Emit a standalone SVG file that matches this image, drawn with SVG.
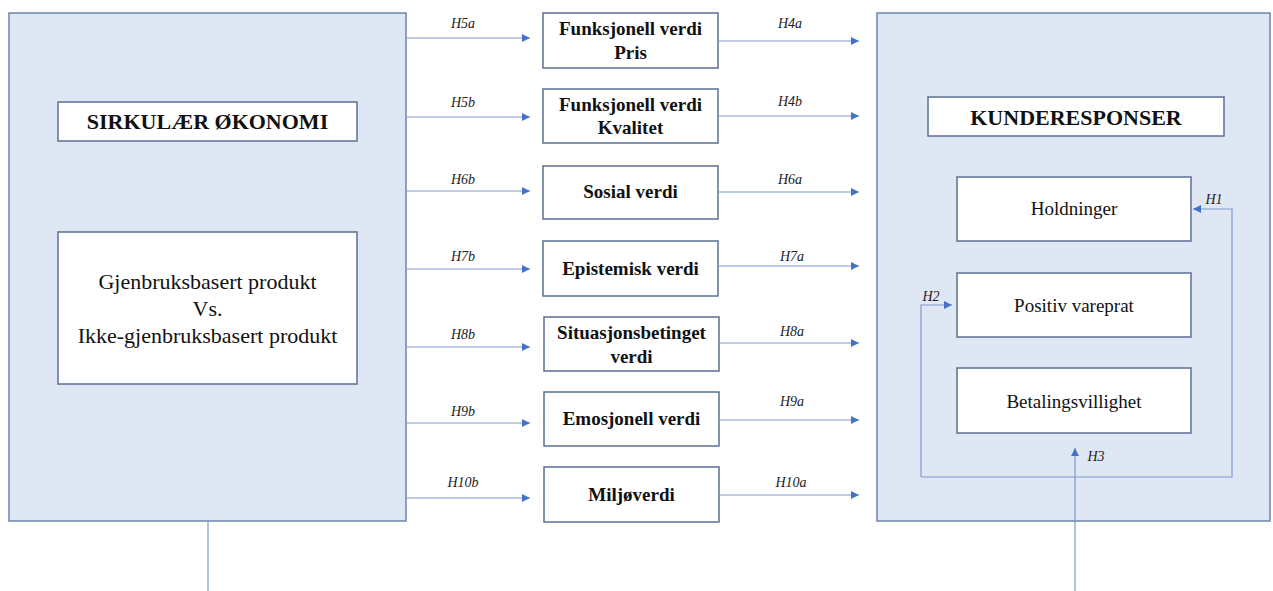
<svg xmlns="http://www.w3.org/2000/svg" width="1273" height="591" viewBox="0 0 1273 591">
<defs>
<style>
.big{fill:#E0E7F4;stroke:#6B84AA;stroke-width:1.5}
.box{fill:#FFFFFF;stroke:#5B6F94;stroke-width:1.5}
.ln{fill:none;stroke:#7E9BCB;stroke-width:1.2}
.t{font-family:"Liberation Serif","Times New Roman",serif;fill:#111}
.b{font-weight:bold}
.lab{font-family:"Liberation Serif","Times New Roman",serif;font-style:italic;font-size:14px;fill:#222;text-anchor:middle}
.c{text-anchor:middle}
</style>
<marker id="ah" viewBox="0 0 10 10" refX="10" refY="5" markerWidth="8" markerHeight="8" markerUnits="userSpaceOnUse" orient="auto">
<path d="M0,0 L10,5 L0,10 z" fill="#4472C4"/>
</marker>
</defs>
<rect width="1273" height="591" fill="#FFFFFF"/>

<g id="sirkulaer">
<rect class="big" x="9" y="13" width="397" height="508"/>
<rect class="box" x="58" y="102" width="299" height="39"/>
<text class="t b c" x="207.5" y="129" font-size="22">SIRKULÆR ØKONOMI</text>
<rect class="box" x="58" y="232" width="299" height="152"/>
<text class="t c" x="207.5" y="289" font-size="22">Gjenbruksbasert produkt</text>
<text class="t c" x="207.5" y="316" font-size="22">Vs.</text>
<text class="t c" x="207.5" y="343" font-size="22">Ikke-gjenbruksbasert produkt</text>
</g>

<g id="kunderesponser">
<rect class="big" x="877" y="13" width="393" height="508"/>
<rect class="box" x="928" y="97" width="296" height="39"/>
<text class="t b c" x="1076" y="125" font-size="22">KUNDERESPONSER</text>
</g>
<g id="holdninger">
<rect class="box" x="957" y="177" width="234" height="64"/>
<text class="t c" x="1074" y="215" font-size="19">Holdninger</text>
</g>
<g id="vareprat">
<rect class="box" x="957" y="273" width="234" height="64"/>
<text class="t c" x="1074" y="312" font-size="19">Positiv vareprat</text>
</g>
<g id="betaling">
<rect class="box" x="957" y="368" width="234" height="65"/>
<text class="t c" x="1074" y="408" font-size="19">Betalingsvillighet</text>
</g>

<g id="pris">
<rect class="box" x="543" y="13" width="175" height="55"/>
<text class="t b c" x="630.5" y="35" font-size="19">Funksjonell verdi</text>
<text class="t b c" x="630.5" y="59" font-size="19">Pris</text>
</g>
<g id="kvalitet">
<rect class="box" x="543" y="89" width="175" height="54"/>
<text class="t b c" x="630.5" y="111" font-size="19">Funksjonell verdi</text>
<text class="t b c" x="630.5" y="134" font-size="19">Kvalitet</text>
</g>
<g id="sosial">
<rect class="box" x="543" y="166" width="175" height="53"/>
<text class="t b c" x="630.5" y="198" font-size="19">Sosial verdi</text>
</g>
<g id="epistemisk">
<rect class="box" x="543" y="241" width="175" height="55"/>
<text class="t b c" x="630.5" y="275" font-size="19">Epistemisk verdi</text>
</g>
<g id="situasjon">
<rect class="box" x="544" y="317" width="175" height="54"/>
<text class="t b c" x="631.5" y="339" font-size="19">Situasjonsbetinget</text>
<text class="t b c" x="631.5" y="363" font-size="19">verdi</text>
</g>
<g id="emosjonell">
<rect class="box" x="544" y="392" width="175" height="54"/>
<text class="t b c" x="631.5" y="425" font-size="19">Emosjonell verdi</text>
</g>
<g id="miljo">
<rect class="box" x="544" y="467" width="175" height="55"/>
<text class="t b c" x="631.5" y="501" font-size="19">Miljøverdi</text>
</g>

<g id="connectors">
<line class="ln" x1="406" y1="38" x2="530" y2="38" marker-end="url(#ah)"/>
<line class="ln" x1="406" y1="117" x2="530" y2="117" marker-end="url(#ah)"/>
<line class="ln" x1="406" y1="191" x2="530" y2="191" marker-end="url(#ah)"/>
<line class="ln" x1="406" y1="269" x2="530" y2="269" marker-end="url(#ah)"/>
<line class="ln" x1="406" y1="347" x2="530" y2="347" marker-end="url(#ah)"/>
<line class="ln" x1="406" y1="423" x2="530" y2="423" marker-end="url(#ah)"/>
<line class="ln" x1="406" y1="498" x2="530" y2="498" marker-end="url(#ah)"/>

<line class="ln" x1="718" y1="41" x2="859" y2="41" marker-end="url(#ah)"/>
<line class="ln" x1="718" y1="116" x2="859" y2="116" marker-end="url(#ah)"/>
<line class="ln" x1="718" y1="192" x2="859" y2="192" marker-end="url(#ah)"/>
<line class="ln" x1="718" y1="266" x2="859" y2="266" marker-end="url(#ah)"/>
<line class="ln" x1="719" y1="343" x2="859" y2="343" marker-end="url(#ah)"/>
<line class="ln" x1="719" y1="420" x2="859" y2="420" marker-end="url(#ah)"/>
<line class="ln" x1="719" y1="495" x2="859" y2="495" marker-end="url(#ah)"/>

<path class="ln" d="M921,477 L1232,477 L1232,209 L1193,209" marker-end="url(#ah)"/>
<path class="ln" d="M921,477 L921,305 L952,305" marker-end="url(#ah)"/>
<line class="ln" x1="1075" y1="591" x2="1075" y2="448" marker-end="url(#ah)"/>
<line class="ln" x1="208" y1="521" x2="208" y2="591"/>

<text class="lab" x="463" y="28">H5a</text>
<text class="lab" x="463" y="107">H5b</text>
<text class="lab" x="463" y="184">H6b</text>
<text class="lab" x="463" y="261">H7b</text>
<text class="lab" x="463" y="339">H8b</text>
<text class="lab" x="463" y="416">H9b</text>
<text class="lab" x="463" y="487">H10b</text>

<text class="lab" x="790" y="28">H4a</text>
<text class="lab" x="790" y="106">H4b</text>
<text class="lab" x="790" y="184">H6a</text>
<text class="lab" x="792" y="261">H7a</text>
<text class="lab" x="792" y="336">H8a</text>
<text class="lab" x="792" y="406">H9a</text>
<text class="lab" x="791" y="487">H10a</text>

<text class="lab" x="1214" y="204">H1</text>
<text class="lab" x="931" y="301">H2</text>
<text class="lab" x="1096" y="461">H3</text>
</g>
</svg>
